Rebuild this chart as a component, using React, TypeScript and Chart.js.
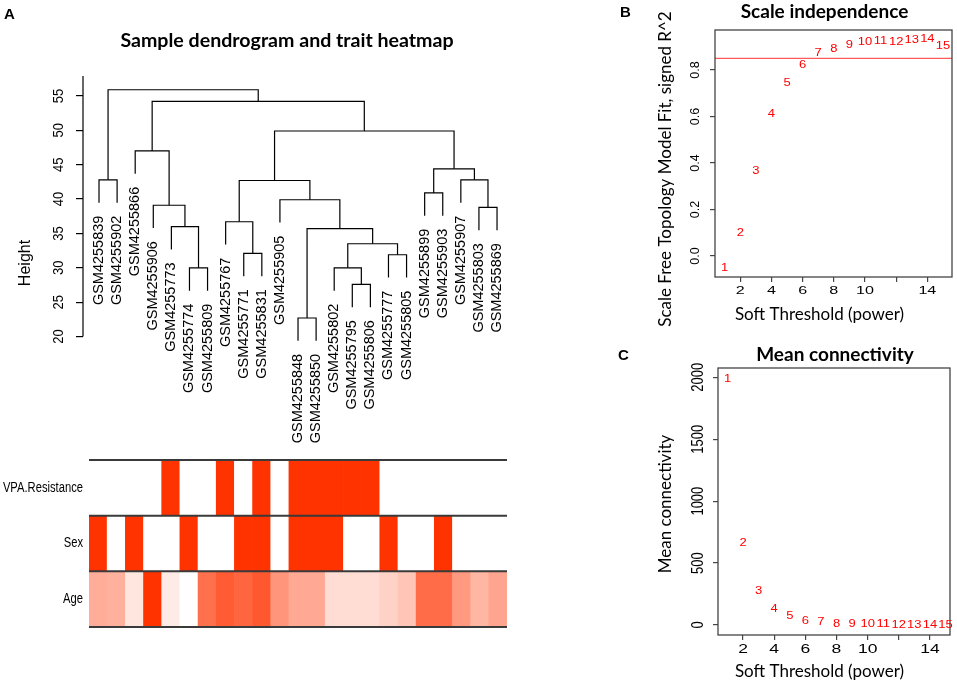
import React, { useEffect, useRef } from "react";
import { Chart, registerables } from "chart.js";
Chart.register(...registerables);

// ---------------- DATA ----------------
const sampleIds = [
  "GSM4255839", "GSM4255902", "GSM4255866", "GSM4255906", "GSM4255773", "GSM4255774",
  "GSM4255809", "GSM4255767", "GSM4255771", "GSM4255831", "GSM4255905", "GSM4255848",
  "GSM4255850", "GSM4255802", "GSM4255795", "GSM4255806", "GSM4255777", "GSM4255805",
  "GSM4255899", "GSM4255903", "GSM4255907", "GSM4255803", "GSM4255869",
];

// hclust-style merge table: negative = leaf (1-based position), positive = earlier merge (1-based)
const mergeA = [-12, -15, -6, -14, -17, -9, 4, 1, -5, -8, -22, -4, -11, -19, 10, -1, -21, 14, -3, 15, 19, 16];
const mergeB = [-13, -16, -7, 2, -18, -10, 5, 7, 3, 6, -23, 9, 8, -20, 13, -2, 11, 17, 12, 18, 20, 21];
const mergeHeight = [22.7, 27.6, 30.0, 30.0, 31.9, 32.1, 33.5, 35.7, 36.0, 36.7, 38.8, 39.1, 39.9, 40.9, 42.7, 42.8, 42.8, 44.4, 47.0, 49.9, 54.2, 55.9];
const dendroTicks = [20, 25, 30, 35, 40, 45, 50, 55];

const traitNames = ["VPA.Resistance", "Sex", "Age"];
const vpaResistance = [0, 0, 0, 0, 1, 0, 0, 1, 0, 1, 0, 1, 1, 1, 1, 1, 0, 0, 0, 0, 0, 0, 0];
const sex = [1, 0, 1, 0, 0, 1, 0, 0, 1, 1, 0, 1, 1, 1, 0, 0, 1, 0, 0, 1, 0, 0, 0];
const ageScaled = [0.4, 0.38, 0.12, 1, 0.1, 0, 0.7, 0.8, 0.75, 0.82, 0.52, 0.42, 0.42, 0.17, 0.17, 0.17, 0.22, 0.28, 0.72, 0.72, 0.5, 0.36, 0.44];

const softPowers = [1, 2, 3, 4, 5, 6, 7, 8, 9, 10, 11, 12, 13, 14, 15];
const scaleFitR2 = [-0.052, 0.096, 0.366, 0.61, 0.745, 0.822, 0.872, 0.89, 0.908, 0.918, 0.925, 0.919, 0.926, 0.934, 0.9];
const meanConnectivity = [1981, 660, 270, 127, 67, 32, 19, 8, 5, 3, 2, 1, 1, 1, 0];
const r2Cutoff = 0.85;
const softTicks = [2, 4, 6, 8, 10, 12, 14];
const r2Ticks = [0, 0.2, 0.4, 0.6, 0.8];
const connTicks = [0, 500, 1000, 1500, 2000];

// ---------------- HELPERS ----------------
const SANS = '"Liberation Sans", Arial, sans-serif';
const CAL = 'Lato, "Open Sans", sans-serif';
const HOT = [255, 51, 0];
const shade = (t: number) =>
  `rgb(${Math.round(255 + (HOT[0] - 255) * t)},${Math.round(255 + (HOT[1] - 255) * t)},${Math.round(255 + (HOT[2] - 255) * t)})`;

const hMin = Math.min(...mergeHeight);
const hMax = Math.max(...mergeHeight);
const hang = 0.1 * (hMax - hMin);

const nodeX: number[] = [];
const leafBottom: number[] = new Array(sampleIds.length).fill(0);
const dendroSegments = mergeHeight.map((h, k) => {
  const info = (c: number) => {
    if (c < 0) {
      leafBottom[-c - 1] = h - hang;
      return { x: -c, y: h - hang };
    }
    return { x: nodeX[c - 1], y: mergeHeight[c - 1] };
  };
  const a = info(mergeA[k]);
  const b = info(mergeB[k]);
  nodeX[k] = (a.x + b.x) / 2;
  return [
    { x: a.x, y: a.y },
    { x: a.x, y: h },
    { x: b.x, y: h },
    { x: b.x, y: b.y },
  ];
});

// rotated (bottom-to-top) text; `thick` stretches glyph height (screen-horizontal)
function rotText(ctx: CanvasRenderingContext2D, text: string, x: number, y: number, align: CanvasTextAlign = "center", thick = 1) {
  ctx.save();
  ctx.translate(x, y);
  ctx.rotate(-Math.PI / 2);
  ctx.scale(1, thick);
  ctx.textAlign = align;
  ctx.textBaseline = "middle";
  ctx.fillText(text, 0, 0);
  ctx.restore();
}

// horizontal text stretched along x
function wideText(ctx: CanvasRenderingContext2D, text: string, x: number, y: number, sx: number, align: CanvasTextAlign = "center") {
  ctx.save();
  ctx.translate(x, y);
  ctx.scale(sx, 1);
  ctx.textAlign = align;
  ctx.textBaseline = "middle";
  ctx.fillText(text, 0, 0);
  ctx.restore();
}

const zeroPad = (s: any) => {
  s.paddingTop = 0;
  s.paddingBottom = 0;
  s.paddingLeft = 0;
  s.paddingRight = 0;
};

// ---------------- CHART CONFIGS ----------------
const dendroConfig = (): any => ({
  type: "scatter",
  data: {
    datasets: dendroSegments.map((seg) => ({
      data: seg,
      showLine: true,
      borderColor: "#000",
      borderWidth: 1.2,
      pointRadius: 0,
      pointHoverRadius: 0,
      tension: 0,
      fill: false,
      clip: false,
    })),
  },
  options: {
    animation: false,
    responsive: false,
    events: [],
    layout: { padding: { left: 0, right: 60, top: 76, bottom: 5 } },
    plugins: { legend: { display: false }, tooltip: { enabled: false } },
    scales: {
      x: { type: "linear", display: false, min: 0.115, max: 24.27 },
      y: {
        type: "linear",
        min: 3.5,
        max: 57.9,
        afterBuildTicks: (s: any) => {
          s.ticks = dendroTicks.map((v) => ({ value: v }));
        },
        ticks: { display: false },
        grid: { drawOnChartArea: false, drawTicks: true, tickLength: 7, color: "#000", lineWidth: 1.2 },
        border: { display: false },
        afterFit: (s: any) => {
          s.width = 83;
          zeroPad(s);
        },
      },
    },
  },
  plugins: [
    {
      id: "dendroDecor",
      afterDraw(chart: any) {
        const { ctx, chartArea, scales } = chart;
        const { x, y } = scales;
        ctx.save();
        ctx.strokeStyle = "#000";
        ctx.lineWidth = 1.2;
        ctx.beginPath();
        ctx.moveTo(chartArea.left, y.getPixelForValue(dendroTicks[0]));
        ctx.lineTo(chartArea.left, chartArea.top);
        ctx.stroke();
        ctx.fillStyle = "#000";
        ctx.font = `13px ${SANS}`;
        y.ticks.forEach((t: any) => rotText(ctx, String(t.value), chartArea.left - 24, y.getPixelForValue(t.value), "center", 1.12));
        ctx.font = `16px ${SANS}`;
        rotText(ctx, "Height", 26, (chartArea.top + chartArea.bottom) / 2);
        ctx.font = `14.5px ${SANS}`;
        sampleIds.forEach((id, i) => {
          rotText(ctx, id, x.getPixelForValue(i + 1), y.getPixelForValue(leafBottom[i]) + 13, "right");
        });
        ctx.font = `bold 19.6px ${CAL}`;
        ctx.textAlign = "center";
        ctx.textBaseline = "alphabetic";
        ctx.fillText("Sample dendrogram and trait heatmap", 287, 47.3);
        ctx.font = `bold 15px ${SANS}`;
        ctx.textAlign = "left";
        ctx.fillText("A", 4, 18.5);
        ctx.restore();
      },
    },
  ],
});

const traitRows = [
  vpaResistance.map((v) => (v ? shade(1) : "#ffffff")),
  sex.map((v) => (v ? shade(1) : "#ffffff")),
  ageScaled.map((t) => shade(t)),
];

const heatConfig = (): any => ({
  type: "bar",
  data: {
    labels: sampleIds,
    datasets: traitRows.map((colors, r) => ({
      label: traitNames[r],
      data: sampleIds.map(() => [r, r + 1]),
      backgroundColor: colors,
      borderWidth: 0,
      barPercentage: 1,
      categoryPercentage: 1,
      grouped: false,
    })),
  },
  options: {
    animation: false,
    responsive: false,
    events: [],
    layout: { padding: { left: 0, right: 73, top: 5, bottom: 13 } },
    plugins: { legend: { display: false }, tooltip: { enabled: false } },
    scales: {
      x: { type: "category", display: false },
      y: {
        type: "linear",
        min: 0,
        max: 3,
        reverse: true,
        afterBuildTicks: (s: any) => {
          s.ticks = traitNames.map((_, i) => ({ value: i + 0.5 }));
        },
        ticks: { display: false },
        grid: { display: false, drawTicks: false },
        border: { display: false },
        afterFit: (s: any) => {
          s.width = 89;
          zeroPad(s);
        },
      },
    },
  },
  plugins: [
    {
      id: "rowLines",
      afterDatasetsDraw(chart: any) {
        const { ctx, chartArea, scales } = chart;
        ctx.save();
        ctx.strokeStyle = "#3a3a3a";
        ctx.lineWidth = 2;
        [0, 1, 2, 3].forEach((v) => {
          const py = scales.y.getPixelForValue(v);
          ctx.beginPath();
          ctx.moveTo(chartArea.left, py);
          ctx.lineTo(chartArea.right, py);
          ctx.stroke();
        });
        ctx.fillStyle = "#000";
        ctx.font = `14px ${SANS}`;
        scales.y.ticks.forEach((t: any) => {
          wideText(ctx, traitNames[Math.floor(t.value)], chartArea.left - 6, scales.y.getPixelForValue(t.value), 0.8, "right");
        });
        ctx.restore();
      },
    },
  ],
});

type SoftOpts = {
  values: number[];
  yMin: number;
  yMax: number;
  xMin: number;
  xMax: number;
  yTicks: number[];
  yFmt: (v: number) => string;
  padding: any;
  yWidth: number;
  xHeight: number;
  yTickFont: number;
  yTickThick: number;
  xTickFont: number;
  xTickWide: number;
  xTickGap: number;
  title: string;
  titleX: number;
  titleY: number;
  yTitle: string;
  yTitleX: number;
  yTitleY: number;
  xTitleX: number;
  xTitleY: number;
  letter: string;
  letterX: number;
  letterY: number;
  cutoff?: number;
};

const softConfig = (o: SoftOpts): any => {
  const datasets: any[] = [
    {
      data: softPowers.map((p, i) => ({ x: p, y: o.values[i] })),
      pointRadius: 0,
      pointHoverRadius: 0,
      showLine: false,
    },
  ];
  if (o.cutoff !== undefined) {
    datasets.push({
      data: [
        { x: o.xMin, y: o.cutoff },
        { x: o.xMax, y: o.cutoff },
      ],
      showLine: true,
      borderColor: "#ff5a5a",
      borderWidth: 1.1,
      pointRadius: 0,
      pointHoverRadius: 0,
    });
  }
  return {
    type: "scatter",
    data: { datasets },
    options: {
      animation: false,
      responsive: false,
      events: [],
      layout: { padding: o.padding },
      plugins: { legend: { display: false }, tooltip: { enabled: false } },
      scales: {
        x: {
          type: "linear",
          min: o.xMin,
          max: o.xMax,
          afterBuildTicks: (s: any) => {
            s.ticks = softTicks.map((v) => ({ value: v }));
          },
          ticks: { display: false },
          grid: { drawOnChartArea: false, drawTicks: true, tickLength: 5, color: "#444", lineWidth: 1.2 },
          border: { display: false },
          afterFit: (s: any) => {
            s.height = o.xHeight;
            zeroPad(s);
          },
        },
        y: {
          type: "linear",
          min: o.yMin,
          max: o.yMax,
          afterBuildTicks: (s: any) => {
            s.ticks = o.yTicks.map((v) => ({ value: v }));
          },
          ticks: { display: false },
          grid: { drawOnChartArea: false, drawTicks: true, tickLength: 5, color: "#444", lineWidth: 1.2 },
          border: { display: false },
          afterFit: (s: any) => {
            s.width = o.yWidth;
            zeroPad(s);
          },
        },
      },
    },
    plugins: [
      {
        id: "softDecor",
        afterDraw(chart: any) {
          const { ctx, chartArea, scales } = chart;
          const { x, y } = scales;
          ctx.save();
          ctx.strokeStyle = "#444";
          ctx.lineWidth = 1.3;
          ctx.strokeRect(chartArea.left, chartArea.top, chartArea.right - chartArea.left, chartArea.bottom - chartArea.top);
          ctx.fillStyle = "#000";
          ctx.font = `${o.yTickFont}px ${SANS}`;
          y.ticks.forEach((t: any) =>
            rotText(ctx, o.yFmt(t.value), chartArea.left - 20, y.getPixelForValue(t.value), "center", o.yTickThick)
          );
          ctx.font = `${o.xTickFont}px ${SANS}`;
          x.ticks.forEach((t: any) => {
            if (t.value === 12) return;
            wideText(ctx, String(t.value), x.getPixelForValue(t.value), chartArea.bottom + o.xTickGap, o.xTickWide);
          });
          // point labels
          const meta = chart.getDatasetMeta(0);
          ctx.fillStyle = "#ff0000";
          ctx.font = `10px ${SANS}`;
          meta.data.forEach((pt: any, i: number) => {
            wideText(ctx, String(softPowers[i]), pt.x, pt.y, 1.3);
          });
          ctx.fillStyle = "#000";
          ctx.font = `bold 19px ${CAL}`;
          ctx.textAlign = "center";
          ctx.textBaseline = "alphabetic";
          ctx.fillText(o.title, o.titleX, o.titleY);
          ctx.font = `17px ${CAL}`;
          ctx.fillText("Soft Threshold (power)", o.xTitleX, o.xTitleY);
          rotText(ctx, o.yTitle, o.yTitleX, o.yTitleY);
          ctx.font = `bold 15px ${SANS}`;
          ctx.textAlign = "left";
          ctx.textBaseline = "alphabetic";
          ctx.fillText(o.letter, o.letterX, o.letterY);
          ctx.restore();
        },
      },
    ],
  };
};

const scaleConfig = () =>
  softConfig({
    values: scaleFitR2,
    yMin: -0.09,
    yMax: 0.972,
    xMin: 0.38,
    xMax: 15.58,
    yTicks: r2Ticks,
    yFmt: (v) => v.toFixed(1),
    padding: { left: 0, right: 5, top: 30, bottom: 0 },
    yWidth: 135,
    xHeight: 63,
    yTickFont: 12.5,
    yTickThick: 1.05,
    xTickFont: 11.5,
    xTickWide: 1.4,
    xTickGap: 13.5,
    title: "Scale independence",
    titleX: 244.5,
    titleY: 17.5,
    yTitle: "Scale Free Topology Model Fit, signed R^2",
    yTitleX: 86,
    yTitleY: 169,
    xTitleX: 239.5,
    xTitleY: 320,
    letter: "B",
    letterX: 40,
    letterY: 17,
    cutoff: r2Cutoff,
  });

const connConfig = () =>
  softConfig({
    values: meanConnectivity,
    yMin: -81,
    yMax: 2075,
    xMin: 0.39,
    xMax: 15.29,
    yTicks: connTicks,
    yFmt: (v) => String(v),
    padding: { left: 0, right: 7, top: 28, bottom: 0 },
    yWidth: 138,
    xHeight: 50,
    yTickFont: 13,
    yTickThick: 1.3,
    xTickFont: 12.5,
    xTickWide: 1.4,
    xTickGap: 14.5,
    title: "Mean connectivity",
    titleX: 255,
    titleY: 20.5,
    yTitle: "Mean connectivity",
    yTitleX: 86,
    yTitleY: 164,
    xTitleX: 239.5,
    xTitleY: 337,
    letter: "C",
    letterX: 38,
    letterY: 20,
  });

// ---------------- COMPONENTS ----------------
function ChartBox({ x, y, w, h, make }: { x: number; y: number; w: number; h: number; make: () => any }) {
  const ref = useRef<HTMLCanvasElement>(null);
  useEffect(() => {
    const chart = new Chart(ref.current as HTMLCanvasElement, make());
    return () => chart.destroy();
  }, []);
  return (
    <canvas
      ref={ref}
      width={w}
      height={h}
      style={{ position: "absolute", left: x, top: y, width: w, height: h }}
    />
  );
}

export default function App() {
  return (
    <div
      style={{
        position: "absolute",
        left: 0,
        top: 0,
        width: 957,
        height: 685,
        background: "#fff",
        overflow: "hidden",
      }}
    >
      <ChartBox x={0} y={0} w={580} h={455} make={dendroConfig} />
      <ChartBox x={0} y={455} w={580} h={185} make={heatConfig} />
      <ChartBox x={580} y={0} w={377} h={340} make={scaleConfig} />
      <ChartBox x={580} y={340} w={377} h={345} make={connConfig} />
    </div>
  );
}
